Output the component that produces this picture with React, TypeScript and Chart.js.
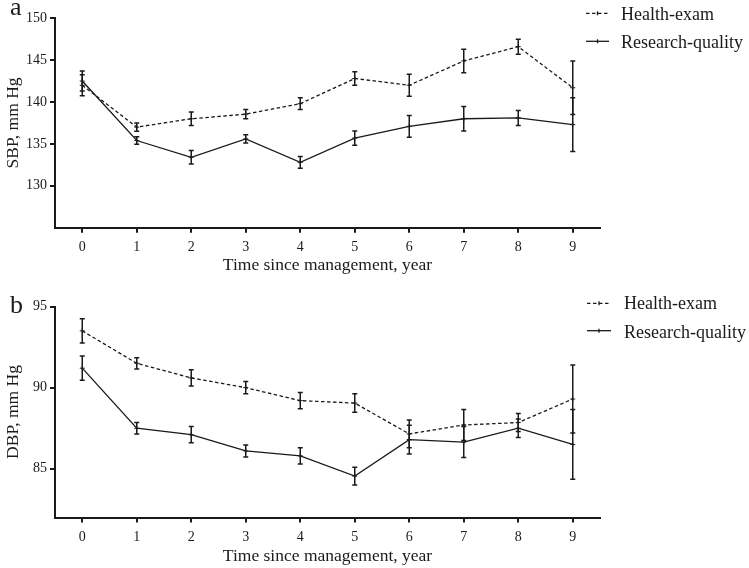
import React, { useEffect, useRef } from 'react';
import { Chart, registerables } from 'chart.js';

Chart.register(...registerables);

// ---------- data ----------
const years = [0, 1, 2, 3, 4, 5, 6, 7, 8, 9];

const sbpHealth = [142.0, 137.0, 138.0, 138.55, 139.8, 142.8, 142.0, 144.9, 146.6, 141.7];
const sbpHealthErr = [1.25, 0.5, 0.8, 0.55, 0.7, 0.8, 1.3, 1.4, 0.9, 3.2];
const sbpResearch = [142.5, 135.4, 133.4, 135.6, 132.8, 135.7, 137.1, 138.0, 138.1, 137.3];
const sbpResearchErr = [1.2, 0.45, 0.8, 0.5, 0.7, 0.85, 1.3, 1.45, 0.9, 3.2];

const dbpHealth = [93.5, 91.5, 90.6, 90.0, 89.2, 89.05, 87.15, 87.7, 87.85, 89.3];
const dbpHealthErr = [0.75, 0.35, 0.5, 0.38, 0.5, 0.57, 0.85, 0.95, 0.55, 2.1];
const dbpResearch = [91.2, 87.5, 87.1, 86.1, 85.8, 84.55, 86.8, 86.65, 87.5, 86.5];
const dbpResearchErr = [0.75, 0.35, 0.5, 0.37, 0.5, 0.55, 0.88, 0.95, 0.57, 2.15];

const sbpTicks = [130, 135, 140, 145, 150];
const dbpTicks = [85, 90, 95];

const seriesLabels = ['Health-exam', 'Research-quality'];
const xTitle = 'Time since management, year';

// ---------- styling ----------
const FONT = "'Liberation Serif', 'Times New Roman', serif";
const INK = '#1a1a1a';

const errorBarsPlugin = {
  id: 'errorBars',
  afterDatasetsDraw(chart: any) {
    const { ctx, scales } = chart;
    const xs = scales.x;
    const ys = scales.y;
    ctx.save();
    ctx.strokeStyle = INK;
    ctx.lineWidth = 1.5;
    ctx.setLineDash([]);
    chart.data.datasets.forEach((ds: any) => {
      const errs: number[] = ds.errors || [];
      ds.data.forEach((pt: any, i: number) => {
        const e = errs[i];
        if (e == null) return;
        const px = xs.getPixelForValue(pt.x);
        const pTop = ys.getPixelForValue(pt.y + e);
        const pBot = ys.getPixelForValue(pt.y - e);
        const cap = 2.5;
        ctx.beginPath();
        ctx.moveTo(px, pTop);
        ctx.lineTo(px, pBot);
        ctx.moveTo(px - cap, pTop);
        ctx.lineTo(px + cap, pTop);
        ctx.moveTo(px - cap, pBot);
        ctx.lineTo(px + cap, pBot);
        ctx.stroke();
      });
    });
    ctx.restore();
  },
};

const decorPlugin = {
  id: 'decor',
  afterDraw(chart: any, _args: any, opts: any) {
    const { ctx } = chart;
    ctx.save();
    // panel letter
    ctx.fillStyle = INK;
    ctx.font = `26px ${FONT}`;
    ctx.textBaseline = 'alphabetic';
    ctx.textAlign = 'left';
    ctx.fillText(opts.letter, opts.letterX, opts.letterY);
    // legend
    ctx.font = `18px ${FONT}`;
    chart.data.datasets.forEach((ds: any, i: number) => {
      const ly = opts.legendLineY[i];
      ctx.strokeStyle = INK;
      ctx.lineWidth = 1.3;
      ctx.setLineDash(ds.borderDash || []);
      ctx.beginPath();
      ctx.moveTo(opts.legendLineX0, ly);
      ctx.lineTo(opts.legendLineX1, ly);
      ctx.stroke();
      ctx.setLineDash([]);
      const mx = (opts.legendLineX0 + opts.legendLineX1) / 2;
      ctx.beginPath();
      ctx.moveTo(mx, ly - 2);
      ctx.lineTo(mx, ly + 2);
      ctx.stroke();
      ctx.fillText(ds.label, opts.legendTextX, opts.legendTextY[i]);
    });
    ctx.restore();
  },
};

type PanelProps = {
  height: number;
  padTop: number;
  xAxisHeight: number;
  yMin: number;
  yMax: number;
  yTicks: number[];
  yTitle: string;
  health: number[];
  healthErr: number[];
  research: number[];
  researchErr: number[];
  decor: any;
  xTitlePad: number;
};

function Panel(p: PanelProps) {
  const ref = useRef<HTMLCanvasElement | null>(null);
  useEffect(() => {
    if (!ref.current) return;
    const toPts = (vals: number[]) => vals.map((v, i) => ({ x: years[i], y: v }));
    const chart = new Chart(ref.current, {
      type: 'line',
      data: {
        datasets: [
          {
            label: seriesLabels[0],
            data: toPts(p.health),
            errors: p.healthErr,
            borderColor: INK,
            backgroundColor: INK,
            borderWidth: 1.3,
            borderDash: [3.5, 2.5],
            pointStyle: 'cross',
            pointRadius: 2.5,
            pointBorderWidth: 1,
            tension: 0,
            fill: false,
          } as any,
          {
            label: seriesLabels[1],
            data: toPts(p.research),
            errors: p.researchErr,
            borderColor: INK,
            backgroundColor: INK,
            borderWidth: 1.3,
            pointStyle: 'cross',
            pointRadius: 2.5,
            pointBorderWidth: 1,
            tension: 0,
            fill: false,
          } as any,
        ],
      },
      options: {
        responsive: false,
        animation: false,
        devicePixelRatio: 1,
        layout: { padding: { top: p.padTop, right: 149, bottom: 0, left: 0 } },
        plugins: {
          legend: { display: false },
          tooltip: { enabled: false },
          decor: p.decor,
        } as any,
        scales: {
          x: {
            type: 'linear',
            min: -0.5,
            max: 9.5,
            afterBuildTicks: (s: any) => {
              s.ticks = years.map((v) => ({ value: v }));
            },
            afterFit: (s: any) => {
              s.height = p.xAxisHeight;
            },
            border: { display: true, color: INK, width: 2 },
            grid: { display: true, drawOnChartArea: false, drawTicks: true, tickLength: 5, color: INK, lineWidth: 2 },
            ticks: { color: INK, font: { family: FONT, size: 14 }, padding: 6, maxRotation: 0 },
            title: {
              display: true,
              text: xTitle,
              color: INK,
              font: { family: FONT, size: 17.5 },
              padding: { top: 0, bottom: p.xTitlePad },
            },
          },
          y: {
            type: 'linear',
            min: p.yMin,
            max: p.yMax,
            afterBuildTicks: (s: any) => {
              s.ticks = p.yTicks.map((v) => ({ value: v }));
            },
            afterFit: (s: any) => {
              s.width = 55;
            },
            border: { display: true, color: INK, width: 2 },
            grid: { display: true, drawOnChartArea: false, drawTicks: true, tickLength: 5, color: INK, lineWidth: 2 },
            ticks: { color: INK, font: { family: FONT, size: 14 }, padding: 3 },
            title: {
              display: true,
              text: p.yTitle,
              color: INK,
              font: { family: FONT, size: 17.5 },
              padding: { top: 3, bottom: 0 },
            },
          },
        },
      } as any,
      plugins: [errorBarsPlugin, decorPlugin],
    });
    return () => chart.destroy();
  }, []);
  return <canvas ref={ref} width={749} height={p.height} style={{ display: 'block', width: 749, height: p.height }} />;
}

export default function App() {
  return (
    <div style={{ position: 'absolute', left: 0, top: 0, width: 749, height: 568, background: '#fff' }}>
      <Panel
        height={276}
        padTop={18.2}
        xAxisHeight={276 - 227.7}
        yMin={125}
        yMax={150}
        yTicks={sbpTicks}
        yTitle="SBP, mm Hg"
        health={sbpHealth}
        healthErr={sbpHealthErr}
        research={sbpResearch}
        researchErr={sbpResearchErr}
        xTitlePad={0.5}
        decor={{
          letter: 'a',
          letterX: 10,
          letterY: 15,
          legendLineX0: 586,
          legendLineX1: 609,
          legendLineY: [13.3, 41.3],
          legendTextX: 621,
          legendTextY: [19.5, 47.5],
        }}
      />
      <Panel
        height={292}
        padTop={30.5}
        xAxisHeight={292 - 241.5}
        yMin={82}
        yMax={95}
        yTicks={dbpTicks}
        yTitle="DBP, mm Hg"
        health={dbpHealth}
        healthErr={dbpHealthErr}
        research={dbpResearch}
        researchErr={dbpResearchErr}
        xTitlePad={1.5}
        decor={{
          letter: 'b',
          letterX: 10,
          letterY: 37,
          legendLineX0: 587,
          legendLineX1: 611,
          legendLineY: [27.3, 54.7],
          legendTextX: 624,
          legendTextY: [33.3, 61.7],
        }}
      />
    </div>
  );
}
